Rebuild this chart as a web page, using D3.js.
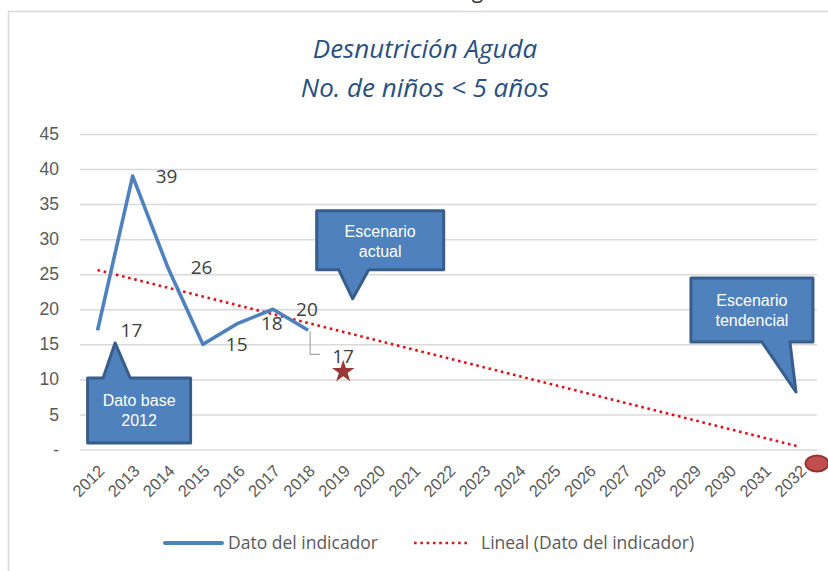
<!DOCTYPE html>
<html>
<head>
<meta charset="utf-8">
<script src="https://cdn.jsdelivr.net/npm/d3@7"></script>
<style>
  body { margin: 0; background: #fff; }
  svg { display: block; }
</style>
</head>
<body>
<div id="chart"></div>
<script>
// data
var years = d3.range(2012, 2033).map(String);
var yTicks = [0, 5, 10, 15, 20, 25, 30, 35, 40, 45];
var indicadorYears = ["2012", "2013", "2014", "2015", "2016", "2017", "2018"];
var indicadorValues = [17, 39, 26, 15, 18, 20, 17];
var trendYears = [2012, 2032];
var trendValues = [25.6, 0.4];
var starPoint = [{ year: 2019, value: 11.1 }];
var targetPoint = [{ year: 2032.5, value: -2, label: "1" }];
var callouts = [
  { lines: ["Dato base", "2012"], tipYear: 2012.5, tipValue: 15.2 },
  { lines: ["Escenario", "actual"], tipYear: 2019.27, tipValue: 21.5 },
  { lines: ["Escenario", "tendencial"], tipYear: 2031.9, tipValue: 8.2 }
];

var data = indicadorYears.map(function(d, i) {
  return { year: d, value: indicadorValues[i] };
});

var width = 828, height = 571;
var margin = { top: 134, right: 11, bottom: 122, left: 80 };
var innerW = width - margin.left - margin.right;
var innerH = height - margin.top - margin.bottom;

var svg = d3.select("#chart").append("svg")
  .attr("width", width)
  .attr("height", height)
  .style("font-family", "'Open Sans', 'Noto Sans', sans-serif");

// caption above the chart frame, cropped by the page edge as in the source
svg.append("text")
  .attr("x", 4)
  .attr("y", -2)
  .style("font-size", "21px")
  .attr("fill", "#333")
  .text("Gráfico 10. Número de niños con desnutrición aguda");

// chart frame
svg.append("rect")
  .attr("x", 8.5)
  .attr("y", 11.5)
  .attr("width", 840)
  .attr("height", 600)
  .attr("fill", "none")
  .attr("stroke", "#d9d9d9")
  .attr("stroke-width", 1.5);

var title = svg.append("text")
  .attr("text-anchor", "middle")
  .attr("fill", "#2b4f80")
  .style("font-style", "italic")
  .style("font-size", "26px");
title.append("tspan").attr("x", 425).attr("y", 58).text("Desnutrición Aguda");
title.append("tspan").attr("x", 425).attr("y", 97).text("No. de niños < 5 años");

var g = svg.append("g")
  .attr("transform", "translate(" + margin.left + "," + margin.top + ")");

var x = d3.scaleBand()
  .domain(years)
  .range([0, innerW]);

var bw = x.bandwidth();

var xl = d3.scaleLinear()
  .domain([2012, 2032])
  .range([x("2012") + bw / 2, x("2032") + bw / 2]);

var y = d3.scaleLinear()
  .domain([0, 45])
  .range([innerH + 0.5, 0]);

var yAxis = d3.axisLeft(y)
  .tickValues(yTicks)
  .tickSize(-innerW)
  .tickPadding(0)
  .tickFormat(function(d) { return d === 0 ? "-" : d; });

function customYAxis(g) {
  g.call(yAxis);
  g.select(".domain").remove();
  g.selectAll(".tick line").attr("stroke", "#d9d9d9").attr("stroke-width", 1.5);
  g.selectAll(".tick text")
    .attr("x", -21)
    .attr("fill", "#595959")
    .style("font-size", "17.5px");
}

g.append("g")
  .attr("class", "yAxis")
  .call(customYAxis);

var xAxis = d3.axisBottom(x).tickSize(0);

function customXAxis(g) {
  g.call(xAxis);
  g.select(".domain").remove();
  g.selectAll(".tick text")
    .attr("text-anchor", "end")
    .attr("fill", "#595959")
    .style("font-size", "16.5px")
    .attr("dy", 0)
    .attr("y", 0)
    .attr("transform", "translate(8,23) rotate(-45)");
}

g.append("g")
  .attr("class", "xAxis")
  .attr("transform", "translate(0," + innerH + ")")
  .call(customXAxis);

// linear trend line
var trend = trendYears.map(function(d, i) { return { year: d, value: trendValues[i] }; });
g.append("path")
  .datum(trend)
  .attr("fill", "none")
  .attr("stroke", "#d9141b")
  .attr("stroke-width", 2.6)
  .attr("stroke-dasharray", "2.6,3.7")
  .attr("d", d3.line()
    .x(function(d) { return xl(d.year); })
    .y(function(d) { return y(d.value); }));

// indicator line
var line = d3.line()
  .x(function(d) { return x(d.year) + bw / 2; })
  .y(function(d) { return y(d.value); });

g.append("path")
  .datum(data)
  .attr("fill", "none")
  .attr("stroke", "#4f81bd")
  .attr("stroke-width", 3.6)
  .attr("stroke-linejoin", "round")
  .attr("d", line);

// data labels, right of each point (last one is pulled out with a leader)
var last = data.length - 1;
g.selectAll(".lbl")
  .data(data)
  .enter().append("text")
  .attr("class", "lbl")
  .attr("x", function(d, i) {
    return i === last ? xl(2019) - 11 : x(d.year) + bw / 2 + 23;
  })
  .attr("y", function(d, i) {
    return i === last ? y(d.value) + 33 : y(d.value) + 7;
  })
  .attr("fill", "#404040")
  .style("font-size", "19px")
  .text(function(d) { return d.value; });

var lp = data[last];
g.append("path")
  .attr("fill", "none")
  .attr("stroke", "#a6a6a6")
  .attr("stroke-width", 1.2)
  .attr("d", "M" + (x(lp.year) + bw / 2 + 2) + "," + (y(lp.value) + 1) +
    "V" + (y(lp.value) + 24) + "h10");

// star marker
var star = d3.symbol().type(d3.symbolStar).size(160);
g.selectAll(".star")
  .data(starPoint)
  .enter().append("path")
  .attr("class", "star")
  .attr("transform", function(d) { return "translate(" + xl(d.year) + "," + y(d.value) + ")"; })
  .attr("d", star)
  .attr("fill", "#983838");

// target marker, spilling past the plot edge
var tp = g.selectAll(".target")
  .data(targetPoint)
  .enter();
tp.append("ellipse")
  .attr("cx", function(d) { return xl(d.year); })
  .attr("cy", function(d) { return y(d.value); })
  .attr("rx", 11.5)
  .attr("ry", 8)
  .attr("fill", "#c0504d")
  .attr("stroke", "#943634")
  .attr("stroke-width", 2);
tp.append("text")
  .attr("x", function(d) { return xl(d.year) + 11; })
  .attr("y", function(d) { return y(d.value) - 14; })
  .attr("fill", "#404040")
  .style("font-size", "19px")
  .text(function(d) { return d.label; });

// callouts
var boxes = [
  { dx: -27.5, dy: 35, w: 103, h: 65, b0: -12, b1: 15 },
  { dx: -36, dy: -88, w: 127, h: 59, b0: -14, b1: 16 },
  { dx: -105, dy: -114, w: 122, h: 64, b0: -34, b1: -6 }
];

callouts.forEach(function(c, i) {
  var b = boxes[i];
  var tx = xl(c.tipYear), ty = y(c.tipValue);
  var bx = tx + b.dx, by = ty + b.dy;
  var up = b.dy > 0;
  var edgeY = up ? by : by + b.h;
  var p;
  if (up) {
    p = [[bx, by], [tx + b.b0, by], [tx, ty], [tx + b.b1, by], [bx + b.w, by],
         [bx + b.w, by + b.h], [bx, by + b.h]];
  } else {
    p = [[bx, by], [bx + b.w, by], [bx + b.w, by + b.h], [tx + b.b1, edgeY],
         [tx, ty], [tx + b.b0, edgeY], [bx, by + b.h]];
  }
  g.append("path")
    .attr("d", "M" + p.join("L") + "Z")
    .attr("fill", "#4f81bd")
    .attr("stroke", "#385d8a")
    .attr("stroke-width", 3)
    .attr("stroke-linejoin", "round");
  var t = g.append("text")
    .attr("text-anchor", "middle")
    .attr("fill", "#fff")
    .style("font-family", "'Liberation Sans Narrow', 'Liberation Sans', Arial, sans-serif")
    .style("font-size", "16px");
  c.lines.forEach(function(s, k) {
    t.append("tspan")
      .attr("x", bx + b.w / 2)
      .attr("y", by + 28 + k * 20 + (i === 1 ? -2 : 0))
      .text(s);
  });
});

// legend
var legend = svg.append("g")
  .attr("transform", "translate(165,543)");
legend.append("line")
  .attr("x1", 0).attr("x2", 57)
  .attr("stroke", "#4f81bd")
  .attr("stroke-width", 4)
  .attr("stroke-linecap", "round");
legend.append("text")
  .attr("x", 63).attr("y", 6)
  .attr("fill", "#595959")
  .style("font-size", "17.5px")
  .text("Dato del indicador");
legend.append("line")
  .attr("x1", 249).attr("x2", 305)
  .attr("stroke", "#d9141b")
  .attr("stroke-width", 2.6)
  .attr("stroke-dasharray", "2.6,3.7");
legend.append("text")
  .attr("x", 316).attr("y", 6)
  .attr("fill", "#595959")
  .style("font-size", "17.5px")
  .text("Lineal (Dato del indicador)");
</script>
</body>
</html>
